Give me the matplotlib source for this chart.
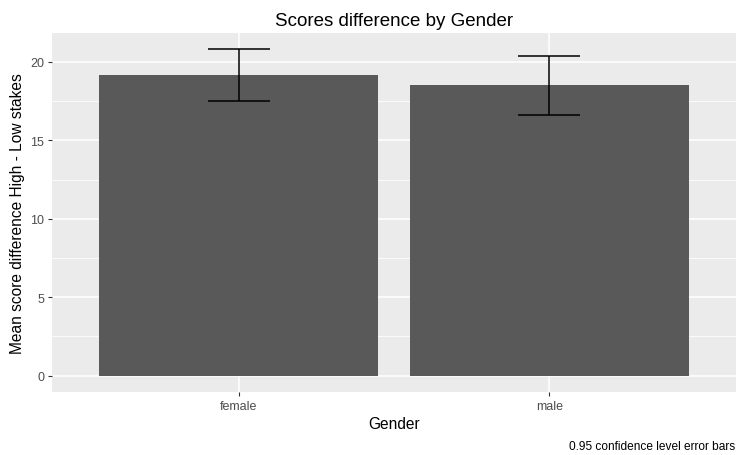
import matplotlib.pyplot as plt
import numpy as np

# mean score difference (high - low stakes) with 95% CI, by gender
genders = ["female", "male"]
mean_diff = [19.14, 18.51]
ci_low = [17.51, 16.64]
ci_high = [20.80, 20.40]

plt.rcParams['font.family'] = ['Liberation Sans', 'DejaVu Sans']

fig = plt.figure(figsize=(7.38, 4.56), dpi=100)
ax = fig.add_axes([52 / 738, 1 - 393 / 456, 684 / 738, 359 / 456])

x = np.arange(1, len(genders) + 1)
mean_diff = np.array(mean_diff)
err = [mean_diff - np.array(ci_low), np.array(ci_high) - mean_diff]

ax.set_facecolor("#EBEBEB")
ax.bar(x, mean_diff, width=0.9, color="#595959", zorder=2)
ax.errorbar(x, mean_diff, yerr=err, fmt="none", ecolor="black",
            elinewidth=1.1, capsize=31 * 0.72, capthick=1.1, zorder=3)

# ggplot-like expansion: 5% on the y range, 0.6 units on the discrete x axis
top = max(ci_high)
ax.set_ylim(-0.05 * top, 1.05 * top)
ax.set_xlim(0.4, len(genders) + 0.6)

ax.set_yticks([0, 5, 10, 15, 20])
ax.set_yticks([2.5, 7.5, 12.5, 17.5], minor=True)
ax.set_xticks(x)
ax.set_xticklabels(genders)
ax.grid(which="major", color="white", linewidth=1.1, zorder=0)
ax.grid(which="minor", axis="y", color="white", linewidth=0.55, zorder=0)
ax.set_axisbelow(True)
for s in ax.spines.values():
    s.set_visible(False)
ax.tick_params(which="major", length=3, width=0.8, color="#333333",
               labelcolor="#4D4D4D", labelsize=9, pad=2.5)
ax.tick_params(which="minor", length=0)

ax.set_xlabel("Gender", fontsize=11.2, labelpad=3)
ax.set_ylabel("Mean score difference High - Low stakes", fontsize=11.2, labelpad=4)
ax.set_title("Scores difference by Gender", fontsize=13.5, pad=6)

fig.text(735 / 738, 1 - 447 / 456, "0.95 confidence level error bars",
         ha="right", va="center", fontsize=8.6)

fig.savefig("out.png", dpi=100)
